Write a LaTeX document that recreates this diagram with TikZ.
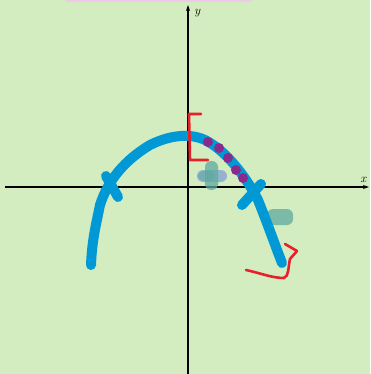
\documentclass[tikz,border=0pt]{standalone}
\usetikzlibrary{arrows.meta}
\definecolor{bg}{HTML}{D3ECC0}
\definecolor{pinkbar}{HTML}{F0C8E8}
\definecolor{penblue}{HTML}{0099D6}
\definecolor{penred}{HTML}{E8202A}
\definecolor{penpurple}{HTML}{8A2A8C}
\definecolor{blobteal}{HTML}{5FAAA0}
\definecolor{blobblue}{HTML}{6A8ED8}
\tikzset{
  axis/.style={line width=1.4pt, -{Stealth[length=6pt,width=4pt]}},
  bluestroke/.style={penblue, line width=10pt, line cap=round, line join=round},
  redstroke/.style={penred, line width=2.6pt, line cap=round, line join=round},
  dotp/.style={circle, fill=penpurple, inner sep=0pt, minimum size=10pt},
  blob/.style={fill=blobteal, opacity=0.75, rounded corners=6pt},
  axlabel/.style={inner sep=0pt, font=\large}
}
\begin{document}
\begin{tikzpicture}[x=1pt,y=-1pt]
\useasboundingbox (0,0) rectangle (370,374);
\fill[bg] (0,0) rectangle (370,374);
\fill[pinkbar] (65,0) rectangle (252,2.5);
% axes
\coordinate (xs) at (5,187);
\coordinate (xe) at (369,187);
\coordinate (ys) at (188,374);
\coordinate (ye) at (188,5);
\draw[axis] (xs) -- (xe);
\draw[axis] (ys) -- (ye);
\node[axlabel] (ylab) at (198,13) {$y$};
\node[axlabel] (xlab) at (364,180) {$x$};
% blobs
\fill[blob, fill=blobblue, opacity=0.6] (197,170) rectangle (227,182);
\fill[blob] (205,161) rectangle (218,190);
\fill[blob, opacity=0.6] (198,171) rectangle (214,181);
\fill[blob] (267,209) rectangle (293,225);
% blue curve
\draw[bluestroke] (91,265) .. controls (92,240) and (96,225) .. (100,205)
  .. controls (108,180) and (125,160) .. (150,145)
  .. controls (170,135) and (190,133) .. (205,140)
  .. controls (225,150) and (245,175) .. (258,200)
  .. controls (268,225) and (275,245) .. (282,263);
\draw[bluestroke] (106,176) -- (118,197);
\draw[bluestroke] (242,205) -- (261,184);
% purple dots
\node[dotp] (d1) at (208,142) {};
\node[dotp] (d2) at (219,148) {};
\node[dotp] (d3) at (228,158) {};
\node[dotp] (d4) at (236,170) {};
\node[dotp] (d5) at (243,178) {};
% red strokes
\draw[redstroke] (201,114) -- (189,114) -- (190,160) -- (208,160);
\draw[redstroke] (246,270) .. controls (260,273) and (272,278) .. (284,278)
  .. controls (289,276) and (288,268) .. (290,259) -- (297,251);
\draw[redstroke] (285,244) -- (297,251);
\end{tikzpicture}
\end{document}
